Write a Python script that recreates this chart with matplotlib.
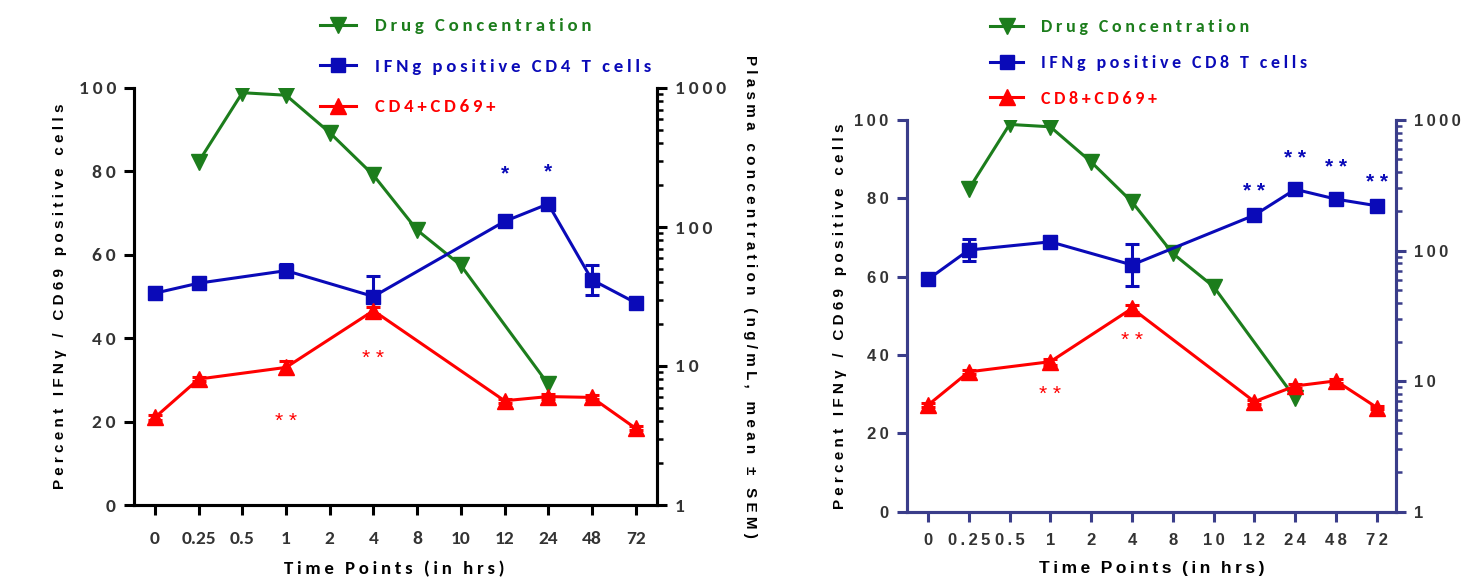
import matplotlib.pyplot as plt
from matplotlib.ticker import FixedLocator, LogLocator, NullFormatter

# category axis (hours)
time_labels = ['0', '0.25', '0.5', '1', '2', '4', '8', '10', '12', '24', '48', '72']

# plasma drug concentration (ng/mL), right log axis
drug_times = ['0.25', '0.5', '1', '2', '4', '8', '10', '24']
drug_conc = [295, 925, 887, 477, 236, 95, 53, 7.4]

# cell percentages, left axis
cell_times = ['0', '0.25', '1', '4', '12', '24', '48', '72']
cd4_ifng = [50.8, 53.2, 56.2, 50.0, 68.0, 72.2, 54.0, 48.5]
cd4_ifng_err = [1.5, 0.8, 1.5, 4.8, 0.8, 0.8, 3.6, 0.6]
cd4_cd69 = [21.0, 30.2, 33.0, 46.6, 25.0, 26.0, 25.8, 18.4]
cd4_cd69_err = [0.5, 0.5, 1.6, 0.8, 0.5, 0.5, 0.5, 0.5]

cd8_ifng = [59.3, 66.8, 68.9, 63.0, 75.7, 82.3, 79.8, 78.1]
cd8_ifng_err = [0.5, 2.8, 1.5, 5.4, 0.5, 0.5, 0.5, 0.5]
cd8_cd69 = [27.2, 35.7, 38.3, 51.9, 28.1, 32.1, 33.4, 26.6]
cd8_cd69_err = [0.5, 0.5, 0.8, 0.8, 0.5, 0.5, 0.5, 0.5]

# significance marks
cd4_blue_star_t = ['12', '24']
cd4_blue_star_y = [80.4, 80.8]
cd4_red_star_t = ['1', '4']
cd4_red_star_y = [21.0, 36.2]
cd8_blue_star_t = ['12', '24', '48', '72']
cd8_blue_star_y = [82.7, 91.3, 89.0, 85.1]
cd8_red_star_t = ['1', '4']
cd8_red_star_y = [31.0, 44.7]

GREEN = '#1c7d1c'
BLUE = '#0a0ab8'
RED = '#ff0000'
TICK_GREY = '#333333'

CAL = ['Carlito', 'Liberation Sans', 'DejaVu Sans']
WIDE = ['Liberation Sans', 'DejaVu Sans']

W, H = 1476, 581


def spaced(s):
    return ' '.join(s)


def thin(s):
    # letter spacing with thin spaces, wider gap between words
    return '\u2009\u2009\u2009'.join('\u2009'.join(w) for w in s.split(' '))


def pos(times):
    return [time_labels.index(t) for t in times]


def draw_panel(fig, rect, xlim, axis_color, ifng, ifng_err, cd69, cd69_err,
               blue_t, blue_y, blue_txt, red_t, red_y, cell_name,
               tick_font, tick_size, xtick_fmt, xpad, text_font, leg_size, leg_top,
               leg_left, leg_spacing, leg_hl, leg_pad, ylabel_x):
    ax = fig.add_axes(rect)
    ax2 = ax.twinx()
    ax.set_zorder(ax2.get_zorder() + 1)
    ax.patch.set_visible(False)

    x_cells = pos(cell_times)
    x_drug = pos(drug_times)

    g, = ax2.plot(x_drug, drug_conc, color=GREEN, lw=2.2, marker='v', ms=11,
                  label=thin('Drug Concentration'))
    ax.errorbar(x_cells, ifng, yerr=ifng_err, fmt='none', ecolor=BLUE,
                elinewidth=2.2, capsize=5, capthick=2.2)
    b, = ax.plot(x_cells, ifng, color=BLUE, lw=2.2, marker='s', ms=10,
                 label=thin('IFNg positive %s T cells' % cell_name))
    ax.errorbar(x_cells, cd69, yerr=cd69_err, fmt='none', ecolor=RED,
                elinewidth=2.2, capsize=5, capthick=2.2)
    r, = ax.plot(x_cells, cd69, color=RED, lw=2.2, marker='^', ms=11,
                 label=thin('%s+CD69+' % cell_name))

    for t, y in zip(pos(blue_t), blue_y):
        ax.annotate(blue_txt, (t, y), xytext=(0, -4), textcoords='offset pixels',
                    color=BLUE, ha='center', va='center',
                    fontsize=15, fontweight='bold', family=WIDE)
    for t, y in zip(pos(red_t), red_y):
        ax.annotate('* *', (t, y), xytext=(0, -4), textcoords='offset pixels',
                    color=RED, ha='center', va='center', fontsize=15, family=WIDE)

    ax.set_xlim(*xlim)
    ax.set_ylim(0, 100)
    ax2.set_yscale('log')
    ax2.set_ylim(1, 1000)

    ax.set_xticks(range(len(time_labels)))
    ax.set_xticklabels([xtick_fmt(t) for t in time_labels])
    ax.set_yticks([0, 20, 40, 60, 80, 100])
    ax.set_yticklabels([thin(str(v)) for v in [0, 20, 40, 60, 80, 100]])
    ax2.yaxis.set_major_locator(FixedLocator([1, 10, 100, 1000]))
    ax2.set_yticklabels([thin(s) for s in ['1', '10', '100', '1000']])
    ax2.yaxis.set_minor_locator(LogLocator(base=10, subs=range(2, 10)))
    ax2.yaxis.set_minor_formatter(NullFormatter())

    for a in (ax, ax2):
        a.spines['top'].set_visible(False)
        for side in ('left', 'right', 'bottom'):
            a.spines[side].set_linewidth(2.2)
            a.spines[side].set_color(axis_color)
        a.tick_params(which='major', direction='out', length=7, width=2.2,
                      color=axis_color, labelcolor=TICK_GREY, labelsize=tick_size,
                      pad=6)
        a.tick_params(which='minor', direction='out', length=4, width=1.8,
                      color=axis_color)
    ax.tick_params(axis='x', pad=xpad)
    for lab in ax.get_xticklabels() + ax.get_yticklabels() + ax2.get_yticklabels():
        lab.set_fontweight('bold')
        lab.set_family(tick_font)

    ax.set_ylabel(spaced('Percent IFNγ / CD69 positive cells'), fontsize=11,
                  fontweight='bold', family=WIDE)
    ax.yaxis.set_label_coords(ylabel_x, 0.5)

    leg = fig.legend(handles=[g, b, r], loc='upper left',
                     bbox_to_anchor=(leg_left / W, 1 - leg_top / H),
                     frameon=False, borderpad=0, borderaxespad=0, handlelength=leg_hl,
                     handletextpad=leg_pad, labelspacing=leg_spacing, numpoints=1,
                     prop={'family': text_font, 'weight': 'bold', 'size': leg_size})
    for txt, c in zip(leg.get_texts(), [GREEN, BLUE, RED]):
        txt.set_color(c)
    return ax, ax2


fig = plt.figure(figsize=(W / 100, H / 100), dpi=100)

ax_l, ax_l2 = draw_panel(fig, [134 / W, 1 - 505 / H, 523 / W, 417 / H], (-0.48, 11.49), 'black',
                         cd4_ifng, cd4_ifng_err, cd4_cd69, cd4_cd69_err,
                         cd4_blue_star_t, cd4_blue_star_y, '*',
                         cd4_red_star_t, cd4_red_star_y, 'CD4',
                         CAL, 14, lambda t: t, 12, CAL, 13.5, 18, 320, 1.3, 1.9, 1.05,
                         -0.128)
ax_l2.set_ylabel(spaced('Plasma concentration (ng/mL, mean ± SEM)'), fontsize=11,
                 fontweight='bold', family=WIDE, rotation=-90, va='center')
ax_l2.yaxis.set_label_coords(1.178, 0.5)
fig.text(394 / W, 1 - 569 / H, thin('Time Points (in hrs)'), ha='center', va='center',
         fontsize=13.5, fontweight='bold', family=CAL)

ax_r, ax_r2 = draw_panel(fig, [906.7 / W, 1 - 511.7 / H, 489.3 / W, 391.7 / H], (-0.52, 11.47),
                         '#3a3d8a',
                         cd8_ifng, cd8_ifng_err, cd8_cd69, cd8_cd69_err,
                         cd8_blue_star_t, cd8_blue_star_y, '* *',
                         cd8_red_star_t, cd8_red_star_y, 'CD8',
                         WIDE, 12, thin, 8, CAL, 13, 19, 990, 1.1, 1.85, 1.0,
                         -0.122)
fig.text(1152 / W, 1 - 569 / H, thin('Time Points (in hrs)'), ha='center', va='center',
         fontsize=12.5, fontweight='bold', family=WIDE)
fig.text(1482 / W, 0.52, spaced('Plasma concentration (ng/mL, mean ± SEM)'),
         rotation=-90, ha='center', va='center', fontsize=11, fontweight='bold',
         family=WIDE)

fig.savefig('out.png', dpi=100)
